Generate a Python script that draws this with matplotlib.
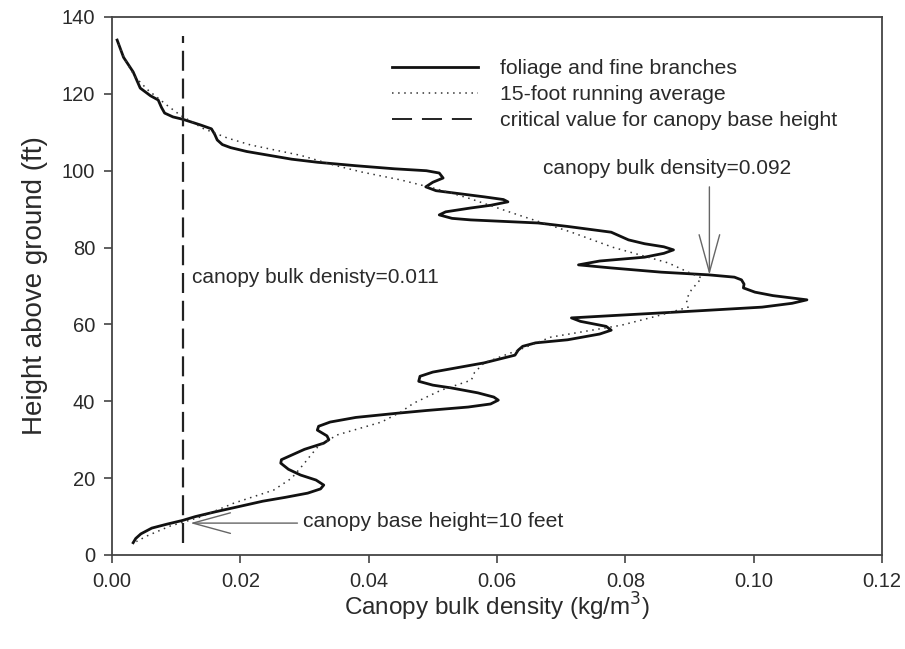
import matplotlib
matplotlib.use("Agg")
import matplotlib.pyplot as plt
from matplotlib.lines import Line2D
from matplotlib.patches import ArrowStyle

plt.rcParams['font.family'] = ['Liberation Sans', 'DejaVu Sans']

# Solid curve: foliage and fine branches (height ft, density kg/m3)
foliage_height = [134.0, 129.5, 125.7, 121.5, 119.5, 118.4, 116.5, 115.0, 114.0, 113.4,
                  112.6, 111.9, 110.9, 109.5, 108.0, 106.8, 106.0, 105.0, 104.0, 103.0,
                  102.2, 101.3, 100.5, 100.0, 99.4, 98.1, 97.0, 95.8, 94.8, 94.2,
                  93.2, 92.5, 91.9, 91.0, 90.3, 89.3, 88.5, 87.6, 87.2, 86.4,
                  85.5, 84.0, 82.0, 81.0, 80.2, 79.4, 78.5, 77.5, 76.5, 75.5,
                  74.7, 73.6, 72.9, 72.3, 71.6, 70.5, 69.5, 68.4, 67.5, 66.4,
                  65.5, 64.5, 63.6, 63.0, 62.3, 61.7, 60.8, 59.5, 58.5, 57.5,
                  56.0, 55.2, 54.3, 53.3, 52.0, 50.0, 48.5, 47.6, 46.5, 45.2,
                  44.2, 43.5, 42.2, 41.1, 40.3, 39.3, 38.5, 37.6, 36.9, 35.8,
                  34.6, 33.5, 32.5, 31.0, 30.0, 29.1, 27.5, 26.0, 24.8, 23.9,
                  22.3, 20.8, 19.5, 18.2, 17.2, 16.1, 15.0, 14.0, 12.5, 11.2,
                  10.0, 9.0, 8.0, 7.0, 5.5, 4.3, 3.2]
foliage_density = [0.0008, 0.0018, 0.0033, 0.0044, 0.0060, 0.0072, 0.0077, 0.0082, 0.0095, 0.0110,
                   0.0125, 0.0138, 0.0155, 0.0160, 0.0164, 0.0172, 0.0185, 0.0210, 0.0245, 0.0280,
                   0.0320, 0.0380, 0.0440, 0.0490, 0.0510, 0.0516, 0.0500, 0.0489, 0.0505, 0.0533,
                   0.0580, 0.0610, 0.0617, 0.0590, 0.0559, 0.0520, 0.0510, 0.0530, 0.0559, 0.0664,
                   0.0710, 0.0778, 0.0805, 0.0830, 0.0860, 0.0875, 0.0860, 0.0830, 0.0760, 0.0727,
                   0.0778, 0.0856, 0.0930, 0.0970, 0.0981, 0.0985, 0.0984, 0.1002, 0.1030, 0.1083,
                   0.1060, 0.1013, 0.0920, 0.0856, 0.0780, 0.0716, 0.0730, 0.0770, 0.0778, 0.0760,
                   0.0710, 0.0660, 0.0640, 0.0633, 0.0628, 0.0580, 0.0530, 0.0500, 0.0480, 0.0478,
                   0.0500, 0.0528, 0.0570, 0.0595, 0.0602, 0.0590, 0.0555, 0.0490, 0.0445, 0.0380,
                   0.0340, 0.0322, 0.0320, 0.0335, 0.0338, 0.0330, 0.0300, 0.0280, 0.0264, 0.0263,
                   0.0275, 0.0294, 0.0318, 0.0330, 0.0325, 0.0305, 0.0270, 0.0235, 0.0195, 0.0160,
                   0.0130, 0.0110, 0.0085, 0.0062, 0.0045, 0.0037, 0.0033]

# Dotted curve: 15-foot running average
avg_height = [133.0, 129.0, 124.4, 121.0, 117.0, 114.5, 111.0, 108.5, 106.7, 104.0,
              101.5, 99.7, 97.6, 95.3, 92.9, 88.5, 84.0, 80.1, 76.0, 73.6,
              72.1, 69.0, 66.5, 64.5, 63.0, 62.0, 59.8, 56.7, 53.3, 50.0,
              47.5, 45.5, 42.9, 39.5, 37.2, 34.6, 31.2, 28.0, 25.0, 23.9,
              20.0, 16.9, 13.5, 9.9, 7.5, 5.0, 3.5]
avg_density = [0.0010, 0.0020, 0.0036, 0.0056, 0.0086, 0.0106, 0.0142, 0.0180, 0.0216, 0.0294,
               0.0345, 0.0388, 0.0450, 0.0505, 0.0555, 0.0633, 0.0716, 0.0780, 0.0867, 0.0898,
               0.0919, 0.0903, 0.0895, 0.0898, 0.0867, 0.0845, 0.0794, 0.0684, 0.0633, 0.0580,
               0.0565, 0.0560, 0.0513, 0.0470, 0.0450, 0.0420, 0.0350, 0.0320, 0.0305, 0.0300,
               0.0280, 0.0252, 0.0190, 0.0138, 0.0090, 0.0055, 0.0038]

critical_value = 0.011
critical_range = [3.0, 135.0]

x_ticks = [0.00, 0.02, 0.04, 0.06, 0.08, 0.10, 0.12]
y_ticks = [0, 20, 40, 60, 80, 100, 120, 140]

legend_labels = ["foliage and fine branches", "15-foot running average",
                 "critical value for canopy base height"]

fig = plt.figure(figsize=(9.05, 6.49), dpi=100)
ax = fig.add_axes([112 / 905, 1 - 555 / 649, (882 - 112) / 905, (555 - 17) / 649])

txt_color = '#2a2a2a'
ax.plot(foliage_density, foliage_height, color='#111111', lw=2.0, solid_joinstyle='round')
ax.plot(avg_density, avg_height, color='#333333', lw=1.1, linestyle=(0, (1, 3)))
ax.plot([critical_value, critical_value], critical_range, color='#222222', lw=1.6,
        dashes=(9, 3.5))

ax.set_xlim(0, 0.12)
ax.set_ylim(0, 140)
ax.set_xticks(x_ticks)
ax.set_xticklabels([f"{v:.2f}" for v in x_ticks])
ax.set_yticks(y_ticks)
ax.tick_params(direction='out', length=6, width=1.2, colors='#444444', labelcolor=txt_color,
               labelsize=14.5, pad=6)
for s in ax.spines.values():
    s.set_color('#444444')
    s.set_linewidth(1.3)

ax.set_xlabel("Canopy bulk density (kg/m$^3$)", fontsize=17.5, color=txt_color, labelpad=0)
ax.set_ylabel("Height above ground (ft)", fontsize=20, color=txt_color, labelpad=10)

handles = [Line2D([], [], color='#111111', lw=2.0),
           Line2D([], [], color='#333333', lw=1.1, linestyle=(0, (1, 3))),
           Line2D([], [], color='#222222', lw=1.4, dashes=(10.3, 5.1))]
leg = fig.legend(handles, legend_labels, loc='upper left',
                 bbox_to_anchor=(392 / 905, 1 - 59.5 / 649), frameon=False,
                 fontsize=15.3, handlelength=4.06, handletextpad=1.03, labelspacing=0.32,
                 borderpad=0, borderaxespad=0)
for t in leg.get_texts():
    t.set_color(txt_color)

ax.text(0.0125, 72.3, "canopy bulk denisty=0.011", fontsize=15, color=txt_color,
        va='center', ha='left')

arrow_kw = dict(arrowstyle=ArrowStyle('->', head_length=1.35, head_width=0.37),
                mutation_scale=20, color='#666666', lw=1.0, shrinkA=0, shrinkB=0)
ax.text(0.0672, 100.7, "canopy bulk density=0.092", fontsize=15, color=txt_color,
        va='center', ha='left')
ax.annotate("", xy=(0.0931, 72.9), xytext=(0.0931, 95.8), arrowprops=arrow_kw)
ax.annotate("", xy=(0.0122, 8.3), xytext=(0.0289, 8.3), arrowprops=arrow_kw)
ax.text(0.0298, 8.8, "canopy base height=10 feet", fontsize=15.2, color=txt_color,
        va='center', ha='left')

fig.savefig("out.png", dpi=100)
